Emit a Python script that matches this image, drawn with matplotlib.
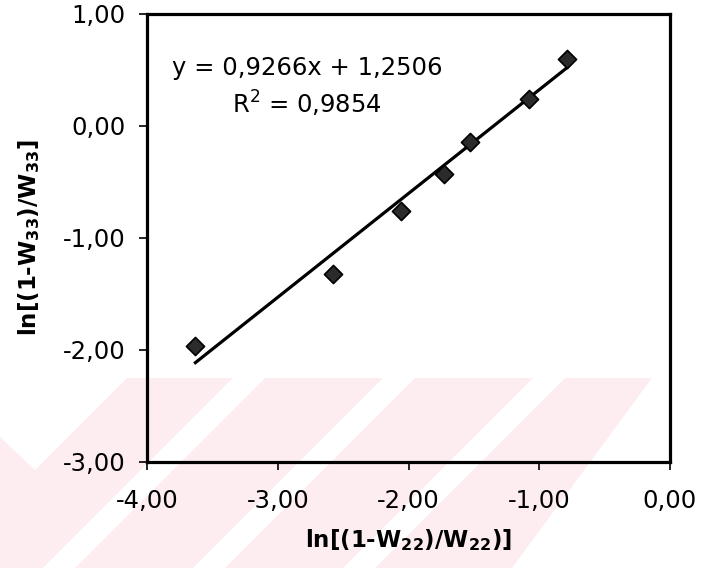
#!/usr/bin/env python3

import matplotlib
matplotlib.use("Agg")
import matplotlib.pyplot as plt
import numpy as np
from matplotlib.patches import Polygon
from matplotlib.ticker import FixedLocator, FuncFormatter
from matplotlib.transforms import Affine2D

# data
ln_w22 = [-3.63, -2.58, -2.06, -1.73, -1.53, -1.08, -0.79]
ln_w33 = [-1.96, -1.32, -0.76, -0.43, -0.14, 0.24, 0.60]
slope = 0.9266
intercept = 1.2506
r_squared = 0.9854

x_ticks = [-4, -3, -2, -1, 0]
y_ticks = [-3, -2, -1, 0, 1]

W, H = 701, 568

plt.rcParams["font.family"] = ["DejaVu Sans"]
plt.rcParams["mathtext.fontset"] = "dejavusans"
plt.rcParams["axes.unicode_minus"] = False


def comma_fmt(v, _pos=None):
    if abs(v) < 1e-9:
        v = 0.0
    return f"{v:.2f}".replace(".", ",")


fig = plt.figure(figsize=(W / 100, H / 100), dpi=100)

# faint watermark in the lower band (pixel coords, y going down)
px = Affine2D().scale(1 / W, -1 / H).translate(0, 1) + fig.transFigure
pink = "#fdedf0"
fig.patches.append(Polygon([(0, 378), (652, 378), (512, 568), (0, 568)],
                           closed=True, transform=px, facecolor=pink,
                           edgecolor="none", zorder=-10))
fig.patches.append(Polygon([(0, 378), (127, 378), (35, 470), (0, 437)],
                           closed=True, transform=px, facecolor="white",
                           edgecolor="none", zorder=-9))
for xt in [233, 383, 533]:
    fig.patches.append(Polygon([(xt, 378), (xt + 32, 378), (xt + 32 - 190, 568), (xt - 190, 568)],
                               closed=True, transform=px, facecolor="white",
                               edgecolor="none", zorder=-9))

ax = fig.add_axes([147 / W, 1 - 462 / H, (670 - 147) / W, (462 - 14) / H])
ax.set_facecolor("none")

ax.scatter(ln_w22, ln_w33, marker="D", s=85, facecolor="#2b2b2b",
           edgecolor="black", linewidth=1.2, zorder=3)

xs = np.array([min(ln_w22), max(ln_w22)])
ax.plot(xs, slope * xs + intercept, color="black", lw=2.3, zorder=2)

eq = f"y = {slope:.4f}x + {intercept:.4f}".replace(".", ",")
r2 = f"R$^2$ = {r_squared:.4f}".replace(".", ",")
ax.text(-2.776, 0.455, eq, ha="center", va="baseline", fontsize=17.5)
ax.text(-2.776, 0.113, r2, ha="center", va="baseline", fontsize=17.5)

ax.set_xlim(-4, 0)
ax.set_ylim(-3, 1)
ax.xaxis.set_major_locator(FixedLocator(x_ticks))
ax.yaxis.set_major_locator(FixedLocator(y_ticks))
ax.xaxis.set_major_formatter(FuncFormatter(comma_fmt))
ax.yaxis.set_major_formatter(FuncFormatter(comma_fmt))
ax.tick_params(axis="both", direction="out", length=5.5, width=1.2,
               labelsize=17.5, color="black")
ax.tick_params(axis="x", pad=14)
ax.tick_params(axis="y", pad=10)

for sp in ax.spines.values():
    sp.set_linewidth(2.3)
    sp.set_color("black")

ax.set_xlabel(r"ln[(1-W$_{\mathbf{22}}$)/W$_{\mathbf{22}}$)]",
              fontsize=16.5, fontweight="bold", labelpad=10)
ax.set_ylabel(r"ln[(1-W$_{\mathbf{33}}$)/W$_{\mathbf{33}}$]",
              fontsize=16.5, fontweight="bold", labelpad=15)

fig.savefig("out.png", dpi=100)
